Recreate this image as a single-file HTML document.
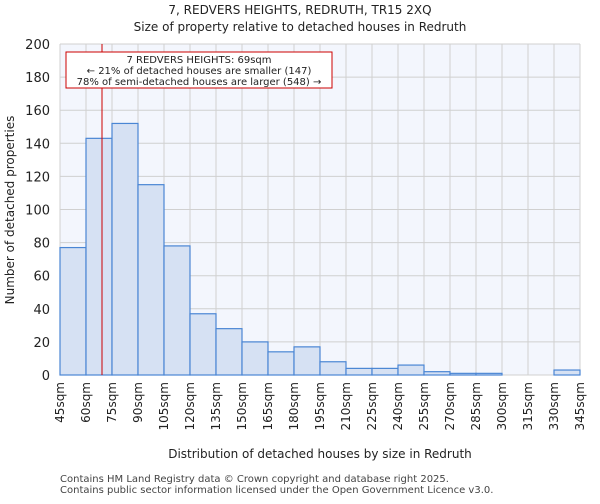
<!DOCTYPE html>
<html><head><meta charset="utf-8"><style>
body{margin:0;background:#fff;font-family:"DejaVu Sans","Liberation Sans",sans-serif}
svg text{font-family:"DejaVu Sans","Liberation Sans",sans-serif;fill:#222}
</style></head><body>
<svg id="c" width="600" height="500">
<text x="300" y="14" font-size="12" text-anchor="middle">7, REDVERS HEIGHTS, REDRUTH, TR15 2XQ</text>
<text x="300" y="31" font-size="12" text-anchor="middle">Size of property relative to detached houses in Redruth</text>
<rect x="60" y="44" width="520" height="331" fill="#f3f6fd"/>
<g id="grid"></g><g id="bars"></g><g id="ticks"></g>
<line x1="102" y1="44" x2="102" y2="375" stroke="#cc0000" stroke-width="1"/>
<rect x="66" y="52" width="266" height="36" fill="#fff" stroke="#cc0000"/>
<text x="199" y="63" font-size="10" text-anchor="middle">7 REDVERS HEIGHTS: 69sqm</text>
<text x="199" y="74" font-size="10" text-anchor="middle">← 21% of detached houses are smaller (147)</text>
<text x="199" y="85" font-size="10" text-anchor="middle">78% of semi-detached houses are larger (548) →</text>
<text x="14" y="210" font-size="12" text-anchor="middle" transform="rotate(-90 14 210)">Number of detached properties</text>
<text x="320" y="458" font-size="12" text-anchor="middle">Distribution of detached houses by size in Redruth</text>
<text x="60" y="482" font-size="10" style="fill:#444">Contains HM Land Registry data © Crown copyright and database right 2025.</text>
<text x="60" y="493" font-size="10" style="fill:#444">Contains public sector information licensed under the Open Government Licence v3.0.</text>
</svg>
<script>
const binStarts=[45,60,75,90,105,120,135,150,165,180,195,210,225,240,255,270,285,300,315,330];
const counts=[77,143,152,115,78,37,28,20,14,17,8,4,4,6,2,1,1,0,0,3];
const xTickLabels=["45sqm","60sqm","75sqm","90sqm","105sqm","120sqm","135sqm","150sqm","165sqm","180sqm","195sqm","210sqm","225sqm","240sqm","255sqm","270sqm","285sqm","300sqm","315sqm","330sqm","345sqm"];
const yTicks=[0,20,40,60,80,100,120,140,160,180,200];
const ns="http://www.w3.org/2000/svg";
const X=v=>60+(v-45)/300*520, Y=v=>375-v/200*331;
function mk(t,a,p){const e=document.createElementNS(ns,t);for(const k in a)e.setAttribute(k,a[k]);p.appendChild(e);return e;}
const g=document.getElementById('grid'),b=document.getElementById('bars'),tk=document.getElementById('ticks');
yTicks.forEach(v=>{
 const l=mk('line',{x1:60,x2:580,y1:Y(v),y2:Y(v),stroke:'#d0d0d0'},g);
 
 
 const t=mk('text',{x:50,y:Y(v)+5,'font-size':13,'text-anchor':'end'},tk);t.textContent=v;
 
 
});
xTickLabels.forEach((s,i)=>{
 const x=X(45+i*15);
 const l=mk('line',{x1:x,x2:x,y1:44,y2:375,stroke:'#d0d0d0'},g);
 
 
 const t=mk('text',{x:x+4,y:382,'font-size':12,'text-anchor':'end',transform:`rotate(-90 ${x+4} 382)`},tk);t.textContent=s;
 
 
});
binStarts.forEach((s,i)=>{
 const x0=X(s),x1=X(s+15),y=Y(counts[i]);
 const r=mk('rect',{x:x0,y:y,width:x1-x0,height:375-y,fill:'#d6e1f3',stroke:'#4a86d4','stroke-width':1.2},b);
 
 
});
</script>
</body></html>
